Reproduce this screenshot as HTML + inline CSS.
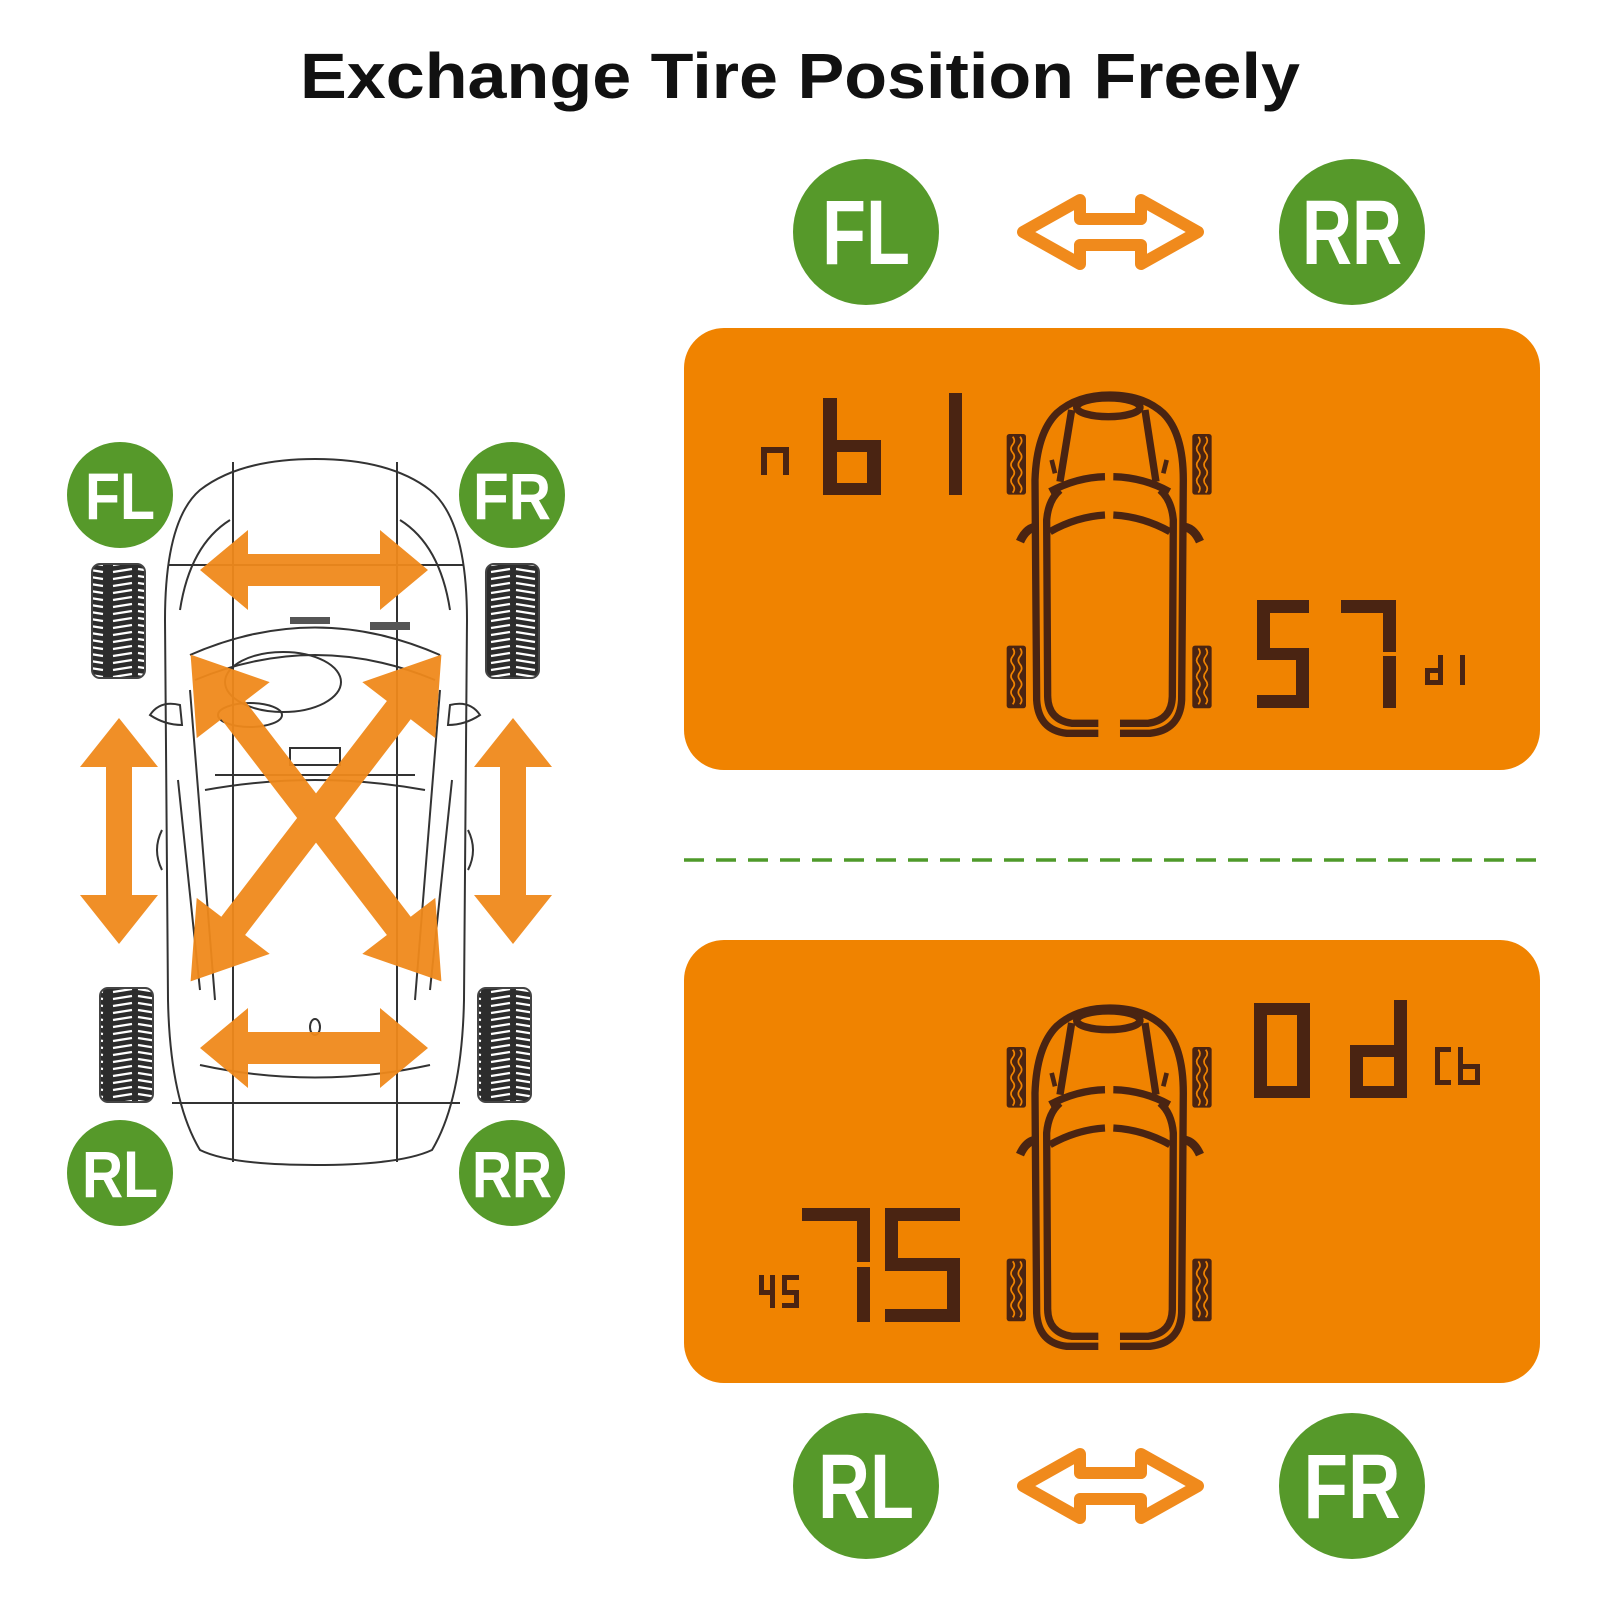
<!DOCTYPE html>
<html><head><meta charset="utf-8"><style>
html,body{margin:0;padding:0;background:#fff;width:1600px;height:1600px;overflow:hidden}
svg{display:block}
</style></head><body>
<svg width="1600" height="1600" viewBox="0 0 1600 1600" xmlns="http://www.w3.org/2000/svg">
<defs>
<pattern id="tread" width="54" height="7" patternUnits="userSpaceOnUse">
<rect width="54" height="7" fill="#2c2c2c"/>
<path d="M5,5 L24,2 M30,2 L49,5" stroke="#fff" stroke-width="2.2"/>
</pattern>
<g id="lcdcar" fill="none" stroke="#4a2412" stroke-width="22" stroke-linecap="butt">
<path d="M355,1060 L260,1060 Q175,1050 170,960 L165,300 Q170,160 230,100 Q290,45 390,45 Q490,45 550,100 Q610,160 610,300 L605,960 Q600,1050 510,1060 L420,1060"/>
<path d="M355,1030 L275,1030 Q205,1020 203,950 L200,420 Q205,360 240,330"/>
<path d="M420,1030 L505,1030 Q575,1020 577,950 L580,420 Q575,360 540,330"/>
<ellipse cx="385" cy="82" rx="95" ry="28"/>
<path d="M275,90 L240,305 M495,90 L528,305"/>
<path d="M210,335 Q290,292 375,290 M400,290 Q490,292 568,335"/>
<path d="M210,455 Q290,410 375,405 M400,405 Q490,410 570,455"/>
<path d="M120,485 Q140,440 175,440 M660,485 Q640,440 605,440" stroke-width="26"/>
<path d="M215,240 L225,280 M560,240 L550,280" stroke-width="14"/>
<rect x="80" y="162" width="58" height="182" rx="8" fill="#4a2412" stroke="none"/>
<rect x="637" y="162" width="58" height="182" rx="8" fill="#4a2412" stroke="none"/>
<rect x="80" y="797" width="58" height="188" rx="8" fill="#4a2412" stroke="none"/>
<rect x="637" y="797" width="58" height="188" rx="8" fill="#4a2412" stroke="none"/>
<g stroke="#f08300" stroke-width="5">
<path d="M98,170 q10,12 0,24 q-10,12 0,24 q10,12 0,24 q-10,12 0,24 q10,12 0,24 q-10,12 0,24 q10,12 0,24 M120,170 q10,12 0,24 q-10,12 0,24 q10,12 0,24 q-10,12 0,24 q10,12 0,24 q-10,12 0,24 q10,12 0,24"/>
<path d="M655,170 q10,12 0,24 q-10,12 0,24 q10,12 0,24 q-10,12 0,24 q10,12 0,24 q-10,12 0,24 q10,12 0,24 M677,170 q10,12 0,24 q-10,12 0,24 q10,12 0,24 q-10,12 0,24 q10,12 0,24 q-10,12 0,24 q10,12 0,24"/>
<path d="M98,805 q10,12 0,24 q-10,12 0,24 q10,12 0,24 q-10,12 0,24 q10,12 0,24 q-10,12 0,24 q10,12 0,24 M120,805 q10,12 0,24 q-10,12 0,24 q10,12 0,24 q-10,12 0,24 q10,12 0,24 q-10,12 0,24 q10,12 0,24"/>
<path d="M655,805 q10,12 0,24 q-10,12 0,24 q10,12 0,24 q-10,12 0,24 q10,12 0,24 q-10,12 0,24 q10,12 0,24 M677,805 q10,12 0,24 q-10,12 0,24 q10,12 0,24 q-10,12 0,24 q10,12 0,24 q-10,12 0,24 q10,12 0,24"/>
</g>
</g>
<path id="outarrow" d="M0,0 L57,-32 L57,-13 L118,-13 L118,-32 L175,0 L118,32 L118,13 L57,13 L57,32 Z" fill="none" stroke="#f08a1c" stroke-width="12" stroke-linejoin="round"/>
</defs>

<text x="800" y="98" text-anchor="middle" font-family="Liberation Sans, sans-serif" font-weight="bold" font-size="64" textLength="1000" lengthAdjust="spacingAndGlyphs" fill="#111">Exchange Tire Position Freely</text>

<g font-family="Liberation Sans Narrow, Liberation Sans, sans-serif" font-weight="bold" fill="#fff" text-anchor="middle" lengthAdjust="spacingAndGlyphs">
<circle cx="866" cy="232" r="73" fill="#56992a"/>
<circle cx="1352" cy="232" r="73" fill="#56992a"/>
<circle cx="866" cy="1486" r="73" fill="#56992a"/>
<circle cx="1352" cy="1486" r="73" fill="#56992a"/>
<text x="866" y="264" font-size="92" textLength="88" lengthAdjust="spacingAndGlyphs">FL</text>
<text x="1352" y="264" font-size="92" textLength="100" lengthAdjust="spacingAndGlyphs">RR</text>
<text x="866" y="1518" font-size="92" textLength="96" lengthAdjust="spacingAndGlyphs">RL</text>
<text x="1352" y="1518" font-size="92" textLength="97" lengthAdjust="spacingAndGlyphs">FR</text>
</g>
<use href="#outarrow" x="1023" y="232"/>
<use href="#outarrow" x="1023" y="1486"/>

<rect x="684" y="328" width="856" height="442" rx="40" fill="#f08300"/>
<rect x="684" y="940" width="856" height="443" rx="40" fill="#f08300"/>
<line x1="684" y1="860" x2="1540" y2="860" stroke="#4f9a2a" stroke-width="3.5" stroke-dasharray="20,12"/>

<g transform="translate(980,380) scale(0.3333)"><use href="#lcdcar"/></g>
<g transform="translate(980,993) scale(0.3333)"><use href="#lcdcar"/></g>

<g fill="#4a2412">
<rect x="761" y="450" width="6" height="25"/><rect x="761" y="447" width="28" height="6"/><rect x="783" y="450" width="6" height="25"/>
<rect x="823" y="398" width="14" height="46"/><rect x="823" y="448" width="14" height="47"/><rect x="823" y="440" width="58" height="12"/><rect x="867" y="448" width="14" height="47"/><rect x="823" y="483" width="58" height="12"/>
<rect x="949" y="393" width="13" height="102"/>
<rect x="1257" y="600" width="52" height="13"/><rect x="1257" y="600" width="13" height="52"/><rect x="1257" y="648" width="52" height="12"/><rect x="1296" y="654" width="13" height="54"/><rect x="1257" y="695" width="52" height="13"/>
<rect x="1341" y="600" width="55" height="13"/><rect x="1383" y="600" width="13" height="52"/><rect x="1383" y="656" width="13" height="52"/>
<rect x="1425" y="668" width="5" height="17"/><rect x="1425" y="668" width="18" height="5"/><rect x="1438" y="655" width="5" height="30"/><rect x="1425" y="680" width="18" height="5"/><rect x="1460" y="655" width="5" height="30"/>
<rect x="1254" y="1003" width="56" height="12"/><rect x="1254" y="1003" width="13" height="95"/><rect x="1297" y="1003" width="13" height="95"/><rect x="1254" y="1086" width="56" height="12"/>
<rect x="1394" y="1000" width="13" height="98"/><rect x="1350" y="1045" width="57" height="12"/><rect x="1350" y="1045" width="13" height="53"/><rect x="1350" y="1086" width="57" height="12"/>
<rect x="1435" y="1047" width="5" height="38"/><rect x="1435" y="1047" width="16" height="5"/><rect x="1435" y="1080" width="16" height="5"/>
<rect x="1458" y="1047" width="5" height="38"/><rect x="1458" y="1064" width="20" height="5"/><rect x="1475" y="1064" width="5" height="21"/><rect x="1458" y="1080" width="22" height="5"/>
<rect x="802" y="1208" width="68" height="13"/><rect x="857" y="1208" width="13" height="54"/><rect x="857" y="1267" width="13" height="55"/>
<rect x="885" y="1208" width="75" height="13"/><rect x="885" y="1208" width="13" height="55"/><rect x="885" y="1258" width="75" height="13"/><rect x="947" y="1262" width="13" height="60"/><rect x="885" y="1309" width="75" height="13"/>
<rect x="759" y="1275" width="5" height="18"/><rect x="759" y="1290" width="16" height="5"/><rect x="770" y="1275" width="5" height="33"/>
<rect x="782" y="1275" width="17" height="5"/><rect x="782" y="1275" width="5" height="17"/><rect x="782" y="1290" width="17" height="5"/><rect x="794" y="1290" width="5" height="18"/><rect x="782" y="1303" width="17" height="5"/>
</g>

<g fill="none" stroke="#333" stroke-width="2">
<path d="M200,1150 Q170,1100 168,1000 L165,620 Q165,520 200,490 Q240,459 315,459 Q390,459 430,490 Q467,520 467,620 L464,1000 Q462,1100 432,1150 Q400,1165 315,1165 Q230,1165 200,1150 Z"/>
<path d="M180,610 Q190,545 230,520 M450,610 Q440,545 400,520"/>
<line x1="233" y1="462" x2="233" y2="1162"/>
<line x1="397" y1="462" x2="397" y2="1162"/>
<line x1="168" y1="565" x2="464" y2="565"/>
<line x1="172" y1="1103" x2="460" y2="1103"/>
<path d="M190,655 Q315,600 440,655"/>
<path d="M195,680 Q315,630 435,680"/>
<path d="M215,775 L415,775 M205,790 Q315,770 425,790"/>
<path d="M190,690 L215,1000 M440,690 L415,1000"/>
<path d="M178,780 L200,990 M452,780 L430,990"/>
<path d="M200,1065 Q315,1090 430,1065"/>
<ellipse cx="250" cy="715" rx="32" ry="12"/>
<ellipse cx="283" cy="682" rx="58" ry="30"/>
<path d="M290,748 L340,748 L340,765 L290,765 Z"/>
<path d="M150,715 Q160,700 180,705 L182,725 Q165,725 150,715 Z M480,715 Q470,700 450,705 L448,725 Q465,725 480,715 Z"/>
<path d="M162,830 q-10,20 0,40 M468,830 q10,20 0,40"/>
<ellipse cx="315" cy="1027" rx="5" ry="8"/>
</g>
<g fill="#555">
<rect x="290" y="617" width="40" height="7"/><rect x="370" y="622" width="40" height="8"/>
</g>

<rect x="92" y="564" width="53" height="114" rx="8" fill="url(#tread)" stroke="#444" stroke-width="2"/>
<rect x="486" y="564" width="53" height="114" rx="8" fill="url(#tread)" stroke="#444" stroke-width="2"/>
<rect x="100" y="988" width="53" height="114" rx="8" fill="url(#tread)" stroke="#444" stroke-width="2"/>
<rect x="478" y="988" width="53" height="114" rx="8" fill="url(#tread)" stroke="#444" stroke-width="2"/>

<g fill="#f08a1c" opacity="0.95">
<polygon transform="translate(314,570)" points="-114,0 -66,-40 -66,-16 66,-16 66,-40 114,0 66,40 66,16 -66,16 -66,40"/>
<polygon transform="translate(314,1048)" points="-114,0 -66,-40 -66,-16 66,-16 66,-40 114,0 66,40 66,16 -66,16 -66,40"/>
<polygon transform="translate(119,831) rotate(90)" points="-113,0 -64,-39 -64,-13 64,-13 64,-39 113,0 64,39 64,13 -64,13 -64,39"/>
<polygon transform="translate(513,831) rotate(90)" points="-113,0 -64,-39 -64,-13 64,-13 64,-39 113,0 64,39 64,13 -64,13 -64,39"/>
<polygon transform="translate(316,818) rotate(52.5)" points="-206,0 -136,-46 -136,-15 136,-15 136,-46 206,0 136,46 136,15 -136,15 -136,46"/>
<polygon transform="translate(316,818) rotate(127.5)" points="-206,0 -136,-46 -136,-15 136,-15 136,-46 206,0 136,46 136,15 -136,15 -136,46"/>
</g>

<g font-family="Liberation Sans Narrow, Liberation Sans, sans-serif" font-weight="bold" fill="#fff" text-anchor="middle">
<circle cx="120" cy="495" r="53" fill="#56992a"/>
<circle cx="512" cy="495" r="53" fill="#56992a"/>
<circle cx="120" cy="1173" r="53" fill="#56992a"/>
<circle cx="512" cy="1173" r="53" fill="#56992a"/>
<text x="120" y="519" font-size="66" textLength="70" lengthAdjust="spacingAndGlyphs">FL</text>
<text x="512" y="519" font-size="66" textLength="78" lengthAdjust="spacingAndGlyphs">FR</text>
<text x="120" y="1197" font-size="66" textLength="76" lengthAdjust="spacingAndGlyphs">RL</text>
<text x="512" y="1197" font-size="66" textLength="80" lengthAdjust="spacingAndGlyphs">RR</text>
</g>
</svg>
</body></html>
